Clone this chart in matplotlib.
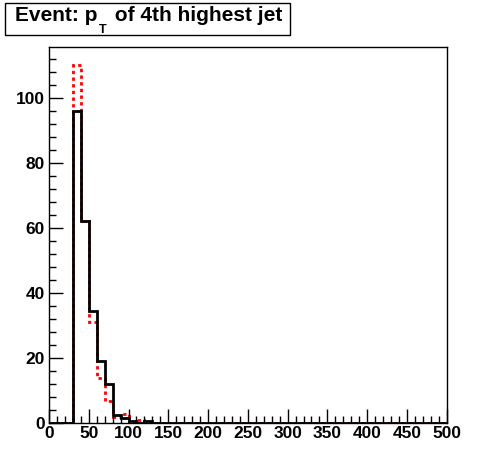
import numpy as np
import matplotlib
matplotlib.use("Agg")
import matplotlib.pyplot as plt
from matplotlib.patches import Rectangle
from matplotlib.ticker import MultipleLocator

# bin edges of the pT histogram (GeV), 10 GeV bins from 0 to 500
edges = np.arange(0, 510, 10)

# non-empty bins start at 30 GeV
black_counts = [96, 62, 34.5, 19, 12, 2.5, 1.6, 0.7, 0, 0.8]
red_counts = [110, 62, 31, 14, 7, 2, 3, 0, 1, 0.3]

black = np.zeros(len(edges) - 1)
red = np.zeros(len(edges) - 1)
black[3:3 + len(black_counts)] = black_counts
red[3:3 + len(red_counts)] = red_counts

title_parts = ["Event: p", "T", " of 4th highest jet"]

plt.rcParams['font.family'] = ['Liberation Sans', 'DejaVu Sans']

fig = plt.figure(figsize=(4.96, 4.72), dpi=100)
ax = fig.add_axes([0.0988, 0.1032, 0.8018, 0.7966])

ax.stairs(red, edges, color='red', lw=2, linestyle=(0, (1.2, 1.2)))
ax.stairs(black, edges, color='black', lw=2)

ax.set_xlim(0, 500)
ax.set_ylim(0, 115.5)
ax.xaxis.set_major_locator(MultipleLocator(50))
ax.xaxis.set_minor_locator(MultipleLocator(10))
ax.yaxis.set_major_locator(MultipleLocator(20))
ax.yaxis.set_minor_locator(MultipleLocator(4))
ax.tick_params(which='both', direction='in', top=False, right=False,
               labelsize=12.5, width=1)
ax.tick_params(which='major', length=10)
ax.tick_params(which='minor', length=5)
for lab in ax.get_xticklabels() + ax.get_yticklabels():
    lab.set_fontweight('bold')
ax.tick_params(axis='x', pad=2)
ax.tick_params(axis='y', pad=3)
for sp in ax.spines.values():
    sp.set_linewidth(1)

# title pave
fig.patches.append(Rectangle((5 / 496, 1 - 35 / 472), 285 / 496, 32 / 472,
                             transform=fig.transFigure, facecolor='white',
                             edgecolor='black', lw=1))
fig.canvas.draw()
r = fig.canvas.get_renderer()
x = 15 / 496
y = 1 - 21 / 472
t1 = fig.text(x, y, title_parts[0], fontsize=15, fontweight='bold', va='baseline')
w = t1.get_window_extent(r).width / 496
t2 = fig.text(x + w + 1 / 496, 1 - 33 / 472, title_parts[1], fontsize=9,
              fontweight='bold', va='baseline')
w2 = t2.get_window_extent(r).width / 496
fig.text(x + w + w2 + 4 / 496, y, title_parts[2], fontsize=15, fontweight='bold',
         va='baseline')

fig.savefig("out.png", dpi=100)
